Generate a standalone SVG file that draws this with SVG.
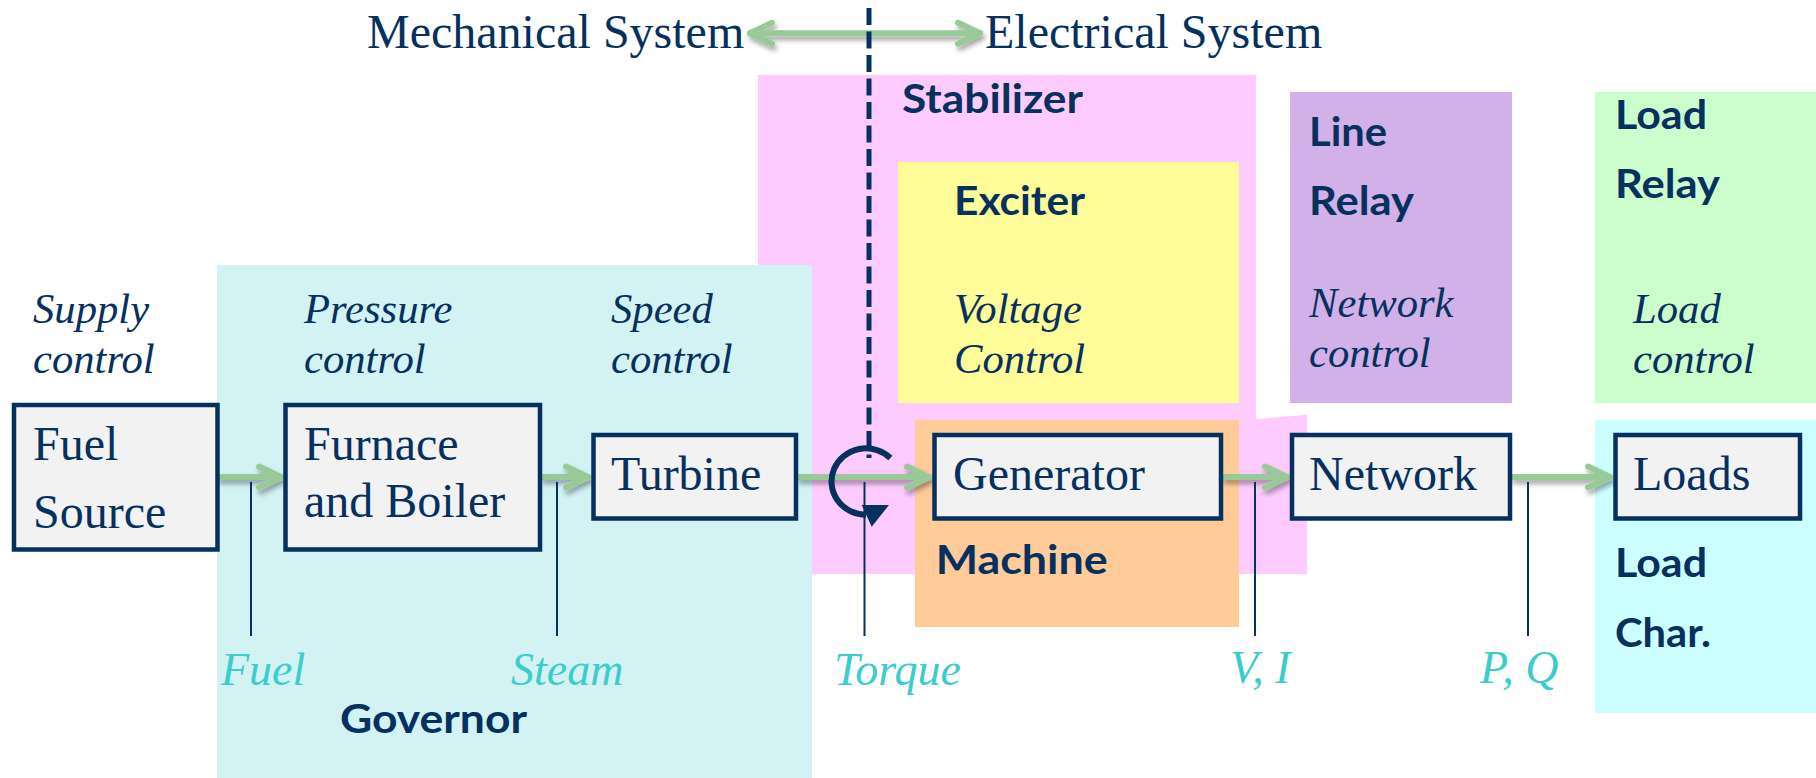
<svg xmlns="http://www.w3.org/2000/svg" width="1816" height="778" viewBox="0 0 1816 778">
<style>
.node{fill:#F2F2F2;stroke:#06305E;stroke-width:4.5}
.nt{font-family:"Liberation Serif","Times New Roman",serif;font-size:48px;fill:#06305E}
.it{font-family:"Liberation Serif","Times New Roman",serif;font-style:italic;font-size:42.67px;fill:#06305E}
.sig{font-family:"Liberation Serif","Times New Roman",serif;font-style:italic;font-size:46px;fill:#3CCCCC}
.bd{font-family:Lato,"Open Sans",sans-serif;font-weight:bold;font-size:40px;fill:#06305E}
.flow{fill:none;stroke:#98CA98;stroke-width:6;stroke-linecap:round}
.tap{stroke:#06305E;stroke-width:2;fill:none}
</style>
<defs>
<filter id="sh" x="-10%" y="-50%" width="120%" height="200%">
<feDropShadow dx="2" dy="4" stdDeviation="2.5" flood-color="#000" flood-opacity="0.35"/>
</filter>
<marker id="gh" markerUnits="userSpaceOnUse" markerWidth="40" markerHeight="40" viewBox="-5 -15 40 30" refX="25" refY="0" orient="auto-start-reverse">
<path d="M3,-10.5 L25,0 L3,10.5" fill="none" stroke="#98CA98" stroke-width="6" stroke-linecap="round" stroke-linejoin="round"/>
</marker>
</defs>
<rect width="1816" height="778" fill="#FFFFFF"/>

<g id="stabilizer">
<polygon points="758,75 1256,75 1256,419.3 1307,414.7 1307,574 758,574" fill="#FDCBFD"/>
<text class="bd" x="902" y="113.3" textLength="181" lengthAdjust="spacingAndGlyphs">Stabilizer</text>
</g>
<g id="governor">
<rect x="217" y="265" width="595" height="513" fill="#D2F2F4"/>
<text class="bd" x="340" y="733" textLength="187" lengthAdjust="spacingAndGlyphs">Governor</text>
</g>
<g id="exciter">
<rect x="898" y="162" width="341" height="241" fill="#FFFD99"/>
<text class="bd" x="954" y="215" textLength="131" lengthAdjust="spacingAndGlyphs">Exciter</text>
<text class="it" x="954" y="323">Voltage</text>
<text class="it" x="954" y="373">Control</text>
</g>
<g id="machine">
<rect x="915" y="420" width="324" height="207" fill="#FFCB99"/>
<text class="bd" x="935.7" y="574.3" textLength="172" lengthAdjust="spacingAndGlyphs">Machine</text>
</g>
<g id="line-relay">
<rect x="1290" y="92" width="222" height="311" fill="#D1B1E8"/>
<text class="bd" x="1309" y="146" textLength="78" lengthAdjust="spacingAndGlyphs">Line</text>
<text class="bd" x="1309" y="215" textLength="105" lengthAdjust="spacingAndGlyphs">Relay</text>
<text class="it" x="1309" y="316.7">Network</text>
<text class="it" x="1309" y="367.3">control</text>
</g>
<g id="load-relay">
<rect x="1595" y="92" width="221" height="311" fill="#CCFDCC"/>
<text class="bd" x="1615" y="129.3" textLength="92" lengthAdjust="spacingAndGlyphs">Load</text>
<text class="bd" x="1615" y="198.3" textLength="105" lengthAdjust="spacingAndGlyphs">Relay</text>
<text class="it" x="1633" y="323">Load</text>
<text class="it" x="1633" y="373">control</text>
</g>
<g id="load-char">
<rect x="1595" y="420" width="221" height="293" fill="#CCFFFF"/>
<text class="bd" x="1615" y="577.3" textLength="92" lengthAdjust="spacingAndGlyphs">Load</text>
<text class="bd" x="1615" y="646.7" textLength="96" lengthAdjust="spacingAndGlyphs">Char.</text>
</g>

<g id="labels">
<text class="it" x="33" y="323.3">Supply</text>
<text class="it" x="33" y="373.3">control</text>
<text class="it" x="304" y="323.3">Pressure</text>
<text class="it" x="304" y="373.3">control</text>
<text class="it" x="611" y="323.3">Speed</text>
<text class="it" x="611" y="373.3">control</text>
<text class="nt" x="367" y="48">Mechanical System</text>
<text class="nt" x="985" y="48">Electrical System</text>
<text class="sig" x="221" y="685">Fuel</text>
<text class="sig" x="511" y="685">Steam</text>
<text class="sig" x="834" y="685">Torque</text>
<text class="sig" x="1230" y="683">V, I</text>
<text class="sig" x="1480" y="683">P, Q</text>
</g>

<g id="connectors">
<g filter="url(#sh)">
<path class="flow" d="M750,33.3 H980" marker-start="url(#gh)" marker-end="url(#gh)"/>
<path class="flow" d="M219,477 H281" marker-end="url(#gh)"/>
<path class="flow" d="M543,477 H588" marker-end="url(#gh)"/>
<path class="flow" d="M799,477 H929" marker-end="url(#gh)"/>
<path class="flow" d="M1224,477 H1287" marker-end="url(#gh)"/>
<path class="flow" d="M1513,477 H1610" marker-end="url(#gh)"/>
</g>
<line x1="869" y1="8" x2="869" y2="458" stroke="#06305E" stroke-width="5" stroke-dasharray="17 6.5"/>
<path d="M890.4,458 A34.5,33.2 0 1 0 866,514.7" fill="none" stroke="#06305E" stroke-width="6"/>
<polygon points="861.7,505 889,505 871.7,526.7" fill="#06305E"/>
<line class="tap" x1="251" y1="482" x2="251" y2="636"/>
<line class="tap" x1="557" y1="482" x2="557" y2="636"/>
<line class="tap" x1="864.5" y1="482" x2="864.5" y2="636"/>
<line class="tap" x1="1255" y1="482" x2="1255" y2="636"/>
<line class="tap" x1="1528" y1="482" x2="1528" y2="636"/>
</g>

<g id="fuel-source">
<rect class="node" x="14" y="405" width="203.5" height="144.5"/>
<text class="nt" x="33" y="460">Fuel</text>
<text class="nt" x="33" y="528">Source</text>
</g>
<g id="furnace-boiler">
<rect class="node" x="285.5" y="405" width="254.5" height="144.5"/>
<text class="nt" x="304" y="460">Furnace</text>
<text class="nt" x="304" y="517">and Boiler</text>
</g>
<g id="turbine">
<rect class="node" x="593.5" y="435" width="202.5" height="83.5"/>
<text class="nt" x="611" y="490">Turbine</text>
</g>
<g id="generator">
<rect class="node" x="934.5" y="435" width="286.5" height="83.5"/>
<text class="nt" x="953" y="490">Generator</text>
</g>
<g id="network">
<rect class="node" x="1292" y="435" width="218" height="83.5"/>
<text class="nt" x="1309" y="490">Network</text>
</g>
<g id="loads">
<rect class="node" x="1615.5" y="435" width="184.5" height="83.5"/>
<text class="nt" x="1633" y="490">Loads</text>
</g>
</svg>
